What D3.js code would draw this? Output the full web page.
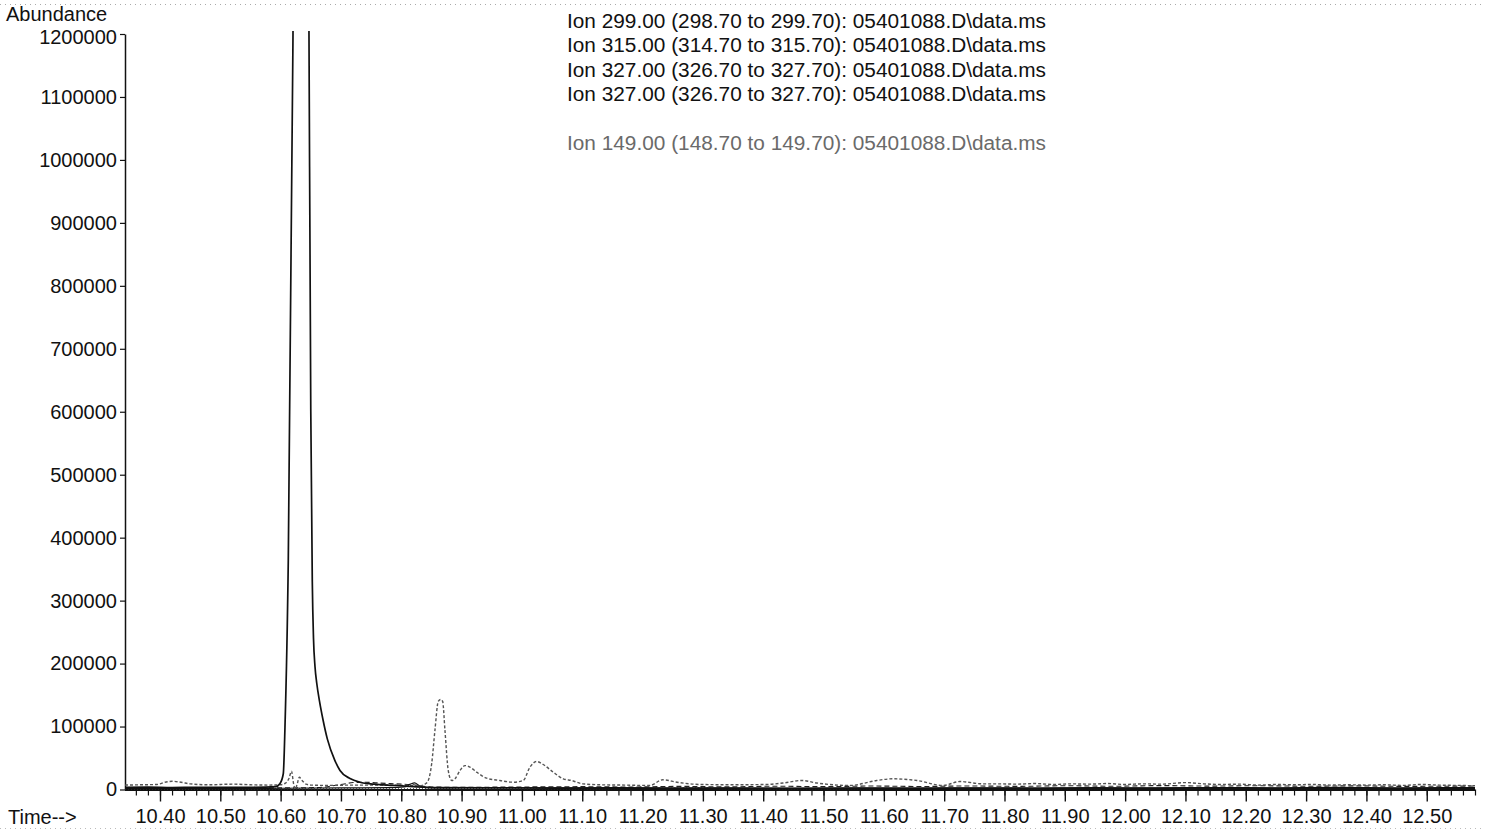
<!DOCTYPE html>
<html>
<head>
<meta charset="utf-8">
<script src="https://cdn.jsdelivr.net/npm/d3@7"></script>
<style>
  html, body { margin: 0; padding: 0; background: #fff; }
  svg { display: block; }
  text { font-family: "Liberation Sans", Arial, Helvetica, sans-serif; }
</style>
</head>
<body>
<svg id="chart" width="1485" height="830"></svg>
<script>
// ---------------- DATA ----------------
const yTickValues = [0, 100000, 200000, 300000, 400000, 500000, 600000, 700000, 800000, 900000, 1000000, 1100000, 1200000];
const xTickLabels = ["10.40","10.50","10.60","10.70","10.80","10.90","11.00","11.10","11.20","11.30","11.40","11.50","11.60","11.70","11.80","11.90","12.00","12.10","12.20","12.30","12.40","12.50"];
const legendLines = [
  "Ion 299.00 (298.70 to 299.70): 05401088.D\\data.ms",
  "Ion 315.00 (314.70 to 315.70): 05401088.D\\data.ms",
  "Ion 327.00 (326.70 to 327.70): 05401088.D\\data.ms",
  "Ion 327.00 (326.70 to 327.70): 05401088.D\\data.ms",
  "",
  "Ion 149.00 (148.70 to 149.70): 05401088.D\\data.ms"
];
const legendColors = ["#111", "#111", "#111", "#111", "#ccc", "#6a6a6a"];

// Ion 299 - large off-scale peak (solid black)
const ion299 = [
  [10.342,3500],[10.38,3800],[10.42,3200],[10.46,3600],[10.50,3300],[10.54,3500],[10.575,3800],[10.592,4500],
  [10.599,9500],[10.6044,25000],[10.6072,99000],[10.6127,364000],[10.6205,1200000],[10.625,1800000],
  [10.635,2200000],[10.644,1800000],[10.647,1200000],[10.650,600000],[10.6525,330000],[10.6545,240000],
  [10.657,195000],[10.660,168000],[10.6645,140000],[10.670,112000],[10.6775,80000],[10.690,46000],[10.6984,30200],
  [10.715,17500],[10.7315,11600],[10.755,8500],[10.786,6400],[10.82,4500],[10.86,3000],[10.95,2500],[11.10,2200],
  [11.30,2000],[11.50,2000],[11.80,1800],[12.10,1800],[12.40,1600],[12.58,1600]
];

// Ion 315 - near-zero trace with a small bump at 10.82 (solid black)
const ion315 = [
  [10.342,1500],[10.45,1800],[10.55,1500],[10.60,2000],[10.70,2500],[10.78,3000],[10.805,4000],[10.815,8500],
  [10.822,10600],[10.83,6000],[10.84,3000],[10.88,2500],[10.95,3000],[11.05,2500],[11.15,3000],[11.25,2200],
  [11.35,2800],[11.45,2000],[11.55,2600],[11.65,2200],[11.75,2800],[11.85,2400],[11.95,3000],[12.05,2600],
  [12.15,3200],[12.25,2700],[12.35,3400],[12.45,2800],[12.58,3200]
];

// Ion 327 (first) - dashed low trace
const ion327a = [
  [10.342,2500],[10.40,2800],[10.50,2500],[10.60,2600],[10.66,3000],[10.70,8000],[10.72,11000],[10.74,11600],
  [10.76,10500],[10.79,9000],[10.82,7500],[10.85,4000],[10.90,3500],[11.00,4000],[11.10,4500],[11.18,4000],
  [11.26,5000],[11.34,4200],[11.42,5200],[11.50,4500],[11.58,5500],[11.66,4800],[11.74,5600],[11.82,5000],
  [11.90,6000],[11.98,5200],[12.06,6200],[12.14,5400],[12.22,6000],[12.30,5200],[12.38,5800],[12.46,5000],[12.58,5500]
];

// Ion 327 (second) - dotted very low trace
const ion327b = [
  [10.342,800],[10.50,900],[10.60,1000],[10.75,1200],[10.90,1500],[11.05,1200],[11.20,1600],[11.30,2500],
  [11.33,1400],[11.50,1300],[11.70,1600],[11.90,1400],[12.10,1800],[12.30,1500],[12.50,1700],[12.58,1500]
];

// Ion 149 - gray dotted trace with peaks at 10.86, 10.91, 11.02
const ion149 = [
  [10.342,7000],[10.37,7500],[10.395,8000],[10.41,12000],[10.42,13000],[10.435,11500],[10.45,9000],[10.48,7500],
  [10.52,8500],[10.55,7500],[10.58,7000],[10.60,7500],[10.608,10000],[10.614,18000],[10.618,29000],[10.6215,9000],
  [10.624,500],[10.627,7000],[10.631,19500],[10.636,14000],[10.642,8500],[10.65,7000],[10.68,6500],[10.72,7000],
  [10.76,7000],[10.80,6500],[10.83,6000],[10.84,9000],[10.8447,14300],[10.8504,41000],[10.8558,94000],
  [10.8613,140000],[10.8653,143000],[10.8686,140000],[10.8724,94000],[10.8779,30000],[10.8835,14300],
  [10.889,17000],[10.8973,30000],[10.9056,38000],[10.9138,35500],[10.925,27500],[10.9415,18000],[10.9636,14300],
  [10.9856,11600],[11.0022,14300],[11.0133,35500],[11.0244,44500],[11.0353,39700],[11.0519,27500],[11.0685,17000],
  [11.0824,14300],[11.101,9000],[11.129,7500],[11.17,7000],[11.212,6400],[11.2335,15400],[11.257,11600],
  [11.295,8000],[11.35,7500],[11.406,8000],[11.4327,10300],[11.464,14300],[11.489,10300],[11.5437,6400],
  [11.588,14300],[11.615,17000],[11.655,14300],[11.698,6400],[11.726,12700],[11.764,9000],[11.792,9000],
  [11.82,8500],[11.85,9500],[11.88,8000],[11.91,9000],[11.94,8500],[11.97,9500],[12.00,8000],[12.03,9000],
  [12.06,8500],[12.10,11000],[12.13,9000],[12.16,8000],[12.19,8500],[12.22,7000],[12.25,8000],[12.28,7500],
  [12.31,8000],[12.34,7000],[12.37,7500],[12.40,7000],[12.43,7500],[12.46,6500],[12.49,8000],[12.52,7000],
  [12.55,6500],[12.58,6000]
];

// ---------------- CHART ----------------
(function () {
const W = 1485, H = 830;
const svg = d3.select("#chart");
const pLeft = 125, pRight = 1475, pTop = 34, pBottom = 789.5;

const x = d3.scaleLinear().domain([10.342, 12.58]).range([pLeft, pRight]);
const y = d3.scaleLinear().domain([0, 1200000]).range([pBottom, pTop]);

// faint scan frame
svg.append("line").attr("x1", 0).attr("x2", W).attr("y1", 4.5).attr("y2", 4.5)
  .attr("stroke", "#aaa").attr("stroke-dasharray", "1,4");
svg.append("line").attr("x1", 0).attr("x2", W).attr("y1", 828.5).attr("y2", 828.5)
  .attr("stroke", "#bbb").attr("stroke-dasharray", "1,4");

svg.append("defs").append("clipPath").attr("id", "plotclip")
  .append("rect").attr("x", pLeft).attr("y", pTop - 3).attr("width", pRight - pLeft + 2).attr("height", pBottom - pTop + 4);

// X axis: minor ticks
const minorTicks = d3.range(10.34, 12.581, 0.02).map(v => +v.toFixed(2)).filter(v => v >= 10.342);
svg.append("g").attr("transform", `translate(0,${pBottom})`)
  .call(d3.axisBottom(x).tickValues(minorTicks).tickSize(6).tickFormat(""))
  .call(g => g.select(".domain").remove())
  .call(g => g.selectAll("line").attr("stroke", "#111").attr("stroke-width", 1.2));

// X axis: major ticks and labels
const majorTicks = xTickLabels.map(s => +s);
svg.append("g").attr("transform", `translate(0,${pBottom})`)
  .call(d3.axisBottom(x).tickValues(majorTicks).tickSize(12).tickSizeOuter(0).tickPadding(7)
        .tickFormat((d, i) => xTickLabels[i]))
  .call(g => g.select(".domain").attr("stroke", "#111").attr("stroke-width", 2)
        .attr("d", `M${pLeft},0.5H${pRight}`))
  .call(g => g.selectAll("line").attr("stroke", "#111").attr("stroke-width", 1.4))
  .call(g => g.selectAll("text").attr("font-size", 20).attr("fill", "#111")
        .attr("font-family", "'Liberation Sans', Arial, sans-serif"));

// Y axis
svg.append("g").attr("transform", `translate(${pLeft},0)`)
  .call(d3.axisLeft(y).tickValues(yTickValues).tickSize(5).tickSizeOuter(0).tickPadding(3).tickFormat(d => String(d)))
  .call(g => g.select(".domain").attr("stroke", "#111").attr("stroke-width", 1.5))
  .call(g => g.selectAll("line").attr("stroke", "#111").attr("stroke-width", 1.2))
  .call(g => g.selectAll("text").attr("font-size", 20).attr("fill", "#111")
        .attr("font-family", "'Liberation Sans', Arial, sans-serif")
        .attr("dy", d => d === 1200000 ? "0.45em" : "0.32em"));

// Axis titles
svg.append("text").attr("x", 6).attr("y", 21).attr("font-size", 20).attr("fill", "#111").text("Abundance");
svg.append("text").attr("x", 8).attr("y", 824).attr("font-size", 20).attr("fill", "#111").text("Time-->");

// Legend text
svg.append("g").selectAll("text").data(legendLines).join("text")
  .attr("x", 567).attr("y", (d, i) => 28 + i * 24.4)
  .attr("font-size", 20)
  .attr("fill", (d, i) => legendColors[i])
  .attr("textLength", d => d ? 479 : null)
  .attr("lengthAdjust", "spacingAndGlyphs")
  .text(d => d);

// Traces
const line = d3.line().x(d => x(d[0])).y(d => y(d[1])).curve(d3.curveMonotoneX);
const plot = svg.append("g").attr("clip-path", "url(#plotclip)");

const traces = [
  { data: ion327b, color: "#444", width: 1, dash: "1,2" },
  { data: ion327a, color: "#222", width: 1.1, dash: "5,3" },
  { data: ion315, color: "#111", width: 1.2, dash: null },
  { data: ion149, color: "#555", width: 1.4, dash: "3,2" },
  { data: ion299, color: "#111", width: 1.7, dash: null }
];
plot.selectAll("path.trace").data(traces).join("path")
  .attr("class", "trace")
  .attr("d", d => line(d.data))
  .attr("fill", "none")
  .attr("stroke", d => d.color)
  .attr("stroke-width", d => d.width)
  .attr("stroke-dasharray", d => d.dash)
  .attr("stroke-linejoin", "round");
})();
</script>
</body>
</html>
